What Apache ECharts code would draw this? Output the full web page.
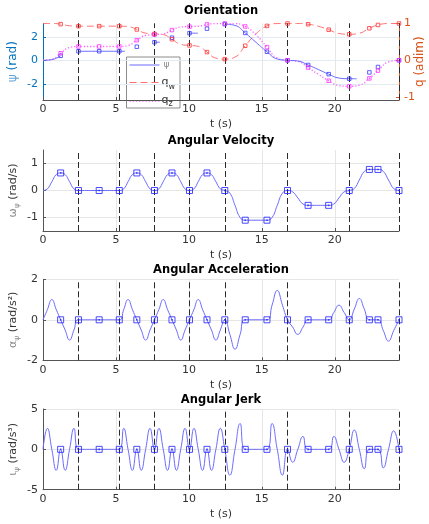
<!DOCTYPE html>
<html><head><meta charset="utf-8">
<script src="https://cdn.jsdelivr.net/npm/echarts@6/dist/echarts.min.js"></script>
<style>html,body{margin:0;padding:0;background:#fff}#c{width:429px;height:524px}</style>
</head><body><div id="c"></div>
<script>
// ---------------- DATA ----------------
const tMax = 24.4;
const xTicks = [0, 5, 10, 15, 20];
const waypoints = [2.43, 5.23, 7.64, 10.04, 12.46, 16.76, 20.99, 24.4];

// marker times (waypoints + intermediate phase changes)
const markerT     = [1.21, 2.43, 3.85, 5.23, 6.43, 7.64, 8.84, 10.04, 11.24, 12.46, 13.86, 15.35, 16.76, 18.17, 19.58, 20.99, 22.37, 22.96, 24.4];
const markerPsi   = [0.385, 0.77, 0.77, 0.77, 1.155, 1.54, 1.925, 2.31, 2.695, 3.08, 2.33, 0.73, 0, -0.4, -1.18, -1.57, -1.03, -0.57, 0];
const markerQw    = [0.982, 0.927, 0.927, 0.927, 0.838, 0.718, 0.572, 0.404, 0.222, 0.031, 0.395, 0.934, 1, 0.98, 0.831, 0.707, 0.87, 0.96, 1];
const markerQz    = [0.191, 0.375, 0.375, 0.375, 0.546, 0.696, 0.821, 0.915, 0.975, 1.0, 0.919, 0.357, 0, -0.199, -0.556, -0.707, -0.492, -0.281, 0];
const markerOmega = [0.65, 0, 0, 0, 0.65, 0, 0.65, 0, 0.65, 0, -1.1, -1.1, 0, -0.55, -0.55, 0, 0.78, 0.78, 0];
const markerAlpha = [0, 0, 0, 0, 0, 0, 0, 0, 0, 0, 0, 0, 0, 0, 0, 0, 0, 0, 0];
const markerIota  = [0, 0, 0, 0, 0, 0, 0, 0, 0, 0, 0, 0, 0, 0, 0, 0, 0, 0, 0];

// orientation curves
const oriT   = [0, 0.605, 1.21, 1.82, 2.43, 3.85, 5.23, 5.83, 6.43, 7.035, 7.64, 8.24, 8.84, 9.44, 10.04, 10.64, 11.24, 11.85, 12.46, 13.16, 13.86, 14.6, 15.35, 16.06, 16.76, 17.47, 18.17, 18.88, 19.58, 20.28, 20.99, 21.68, 22.37, 22.96, 23.68, 24.4];
const qwCurve = [1, 1.0, 0.982, 0.937, 0.927, 0.927, 0.927, 0.916, 0.838, 0.737, 0.718, 0.698, 0.572, 0.43, 0.404, 0.378, 0.222, 0.059, 0.031, 0.086, 0.395, 0.721, 0.934, 0.998, 1, 1.0, 0.98, 0.923, 0.831, 0.728, 0.707, 0.735, 0.87, 0.96, 0.999, 1];
const qzCurve = [0, 0.028, 0.191, 0.349, 0.375, 0.375, 0.375, 0.402, 0.546, 0.675, 0.696, 0.716, 0.821, 0.903, 0.915, 0.926, 0.975, 0.998, 1.0, 0.996, 0.919, 0.693, 0.357, 0.055, 0, -0.03, -0.199, -0.385, -0.556, -0.686, -0.707, -0.678, -0.492, -0.281, -0.045, 0];
// visible pieces of the psi line (null = gap)
const psiLineT = [0, 0.605, 1.21, null, 2.43, 3.85, 5.23, 5.62, null, 7.64, 8.0, null, 10.04, 10.62, null, 12.46, 13.16, 13.86, 14.6, 15.35, 16.06, 16.76, 17.47, 18.17, 18.88, 19.58, 20.28, 20.99, 21.5];
const psiLineV = [0, 0.057, 0.385, null, 0.77, 0.77, 0.77, 0.77, null, 1.54, 1.54, null, 2.31, 2.31, null, 3.08, 2.97, 2.33, 1.53, 0.73, 0.11, 0, -0.06, -0.4, -0.79, -1.18, -1.51, -1.57, -1.57];

// derivative curves (sampled at the same times)
const dynT = [0, 0.30, 0.605, 0.91, 1.21, 1.515, 1.82, 2.125, 2.43, 3.85, 5.23, 5.53, 5.83, 6.13, 6.43, 6.73, 7.035, 7.34, 7.64, 7.94, 8.24, 8.54, 8.84, 9.14, 9.44, 9.74, 10.04, 10.34, 10.64, 10.94, 11.24, 11.545, 11.85, 12.155, 12.46, 12.81, 13.16, 13.51, 13.86, 15.35, 15.70, 16.055, 16.41, 16.76, 17.11, 17.465, 17.82, 18.17, 19.58, 19.93, 20.285, 20.64, 20.99, 21.335, 21.68, 22.025, 22.37, 22.96, 23.32, 23.68, 24.04, 24.4];
const omegaCurve = [0, 0.059, 0.325, 0.591, 0.65, 0.591, 0.325, 0.059, 0, 0, 0, 0.059, 0.325, 0.591, 0.65, 0.591, 0.325, 0.059, 0, 0.059, 0.325, 0.591, 0.65, 0.591, 0.325, 0.059, 0, 0.059, 0.325, 0.591, 0.65, 0.591, 0.325, 0.059, 0, -0.1, -0.55, -1.0, -1.1, -1.1, -1.0, -0.55, -0.1, 0, -0.05, -0.275, -0.5, -0.55, -0.55, -0.5, -0.275, -0.05, 0, 0.071, 0.39, 0.709, 0.78, 0.78, 0.709, 0.39, 0.071, 0];
const alphaCurve = [0, 0.5, 1, 0.5, 0, -0.5, -1, -0.5, 0, 0, 0, 0.5, 1, 0.5, 0, -0.5, -1, -0.5, 0, 0.5, 1, 0.5, 0, -0.5, -1, -0.5, 0, 0.5, 1, 0.5, 0, -0.5, -1, -0.5, 0, -0.725, -1.45, -0.725, 0, 0, 0.725, 1.45, 0.725, 0, -0.36, -0.72, -0.36, 0, 0, 0.36, 0.72, 0.36, 0, 0.525, 1.05, 0.525, 0, 0, -0.525, -1.05, -0.525, 0];
const iotaCurve  = [0, 2.6, 0, -2.6, 0, -2.6, 0, 2.6, 0, 0, 0, 2.6, 0, -2.6, 0, -2.6, 0, 2.6, 0, 2.6, 0, -2.6, 0, -2.6, 0, 2.6, 0, 2.6, 0, -2.6, 0, -2.6, 0, 2.6, 0, -3.2, 0, 3.2, 0, 0, 3.2, 0, -3.2, 0, -1.6, 0, 1.6, 0, 0, 1.6, 0, -1.6, 0, 2.4, 0, -2.4, 0, 0, -2.3, 0, 2.3, 0];

// ---------------- STYLE ----------------
const FONT = 'DejaVu Sans';
const C = { psi:'#6b6bff', qw:'#ff6f6f', qz:'#ff5cff', curve:'#6b6bff', mark:'#1f1fff',
  dash:'#2b2b2b', axis:'#555555', text:'#333333', grid:'#e6e6e6', blue:'#0072BD', orange:'#D95319', greek:'#8a8a8a' };

const pairs = (ts, vs) => ts.map((t, i) => [t, vs[i]]);
const gapPairs = (ts, vs) => ts.map((t, i) => t === null ? [ts[i-1], '-'] : [t, vs[i]]);
// duplicate points at phase boundaries so that the jerk shows its corners
const cornerPairs = (ts, vs) => { const out = []; ts.forEach((t, i) => { out.push([t, vs[i]]); if (markerT.indexOf(t) >= 0 && i < ts.length - 1) out.push([t, vs[i]]); }); return out; };

const grids = [
  {left:43, top:23.3, width:356, height:76.7},
  {left:43, top:150, width:356, height:81},
  {left:43, top:279.3, width:356, height:81},
  {left:43, top:409, width:356, height:80.7}
].map(g => Object.assign({containLabel:false, outerBoundsMode:'none'}, g));

function xAx(i) {
  return { type:'value', gridIndex:i, min:0, max:tMax,
    name:'t (s)', nameLocation:'middle', nameGap:19, nameMoveOverlap:false,
    nameTextStyle:{fontFamily:FONT, fontSize:11, color:C.text},
    axisLine:{show:true, onZero:false, lineStyle:{color:C.axis, width:1}},
    axisTick:{show:true, inside:true, length:3, customValues:xTicks, lineStyle:{color:C.axis}},
    axisLabel:{show:true, customValues:xTicks, margin:4, fontFamily:FONT, fontSize:11, color:C.text},
    splitLine:{show:true, lineStyle:{color:C.grid, width:1}} };
}
const nameRich = {
  g:{fontFamily:FONT, fontSize:11, color:C.greek, lineHeight:16},
  s:{fontFamily:FONT, fontSize:7.5, color:C.greek, lineHeight:8, verticalAlign:'bottom'},
  t:{fontFamily:FONT, fontSize:11, color:C.text, lineHeight:16}
};
function yAx(i, min, max, ticks, name, extra) {
  return Object.assign({ type:'value', gridIndex:i, min:min, max:max, position:'left',
    name:name, nameLocation:'middle', nameGap:22, nameRotate:90, nameMoveOverlap:false,
    nameTextStyle:{fontFamily:FONT, fontSize:11, color:C.text, rich:nameRich},
    axisLine:{show:true, onZero:false, lineStyle:{color:C.axis, width:1}},
    axisTick:{show:true, inside:true, length:3, customValues:ticks, lineStyle:{color:C.axis}},
    axisLabel:{show:true, customValues:ticks, margin:5, fontFamily:FONT, fontSize:11, color:C.text},
    splitLine:{show:true, lineStyle:{color:C.grid, width:1}} }, extra || {});
}

const yAxes = [
  yAx(0, -3.38, 3.15, [-2, 0, 2], '{g|ψ}{t| (rad)}', {
    nameGap:22,
    nameTextStyle:{fontFamily:FONT, fontSize:12, color:C.blue, rich:{
      g:{fontFamily:FONT, fontSize:12, color:'#5fa3d6', lineHeight:16},
      t:{fontFamily:FONT, fontSize:12, color:C.blue, lineHeight:16}}},
    axisLine:{show:true, onZero:false, lineStyle:{color:C.blue, width:1}},
    axisTick:{show:true, inside:true, length:3, customValues:[-2, 0, 2], lineStyle:{color:C.blue}},
    axisLabel:{show:true, customValues:[-2, 0, 2], margin:5, fontFamily:FONT, fontSize:11, color:C.blue},
    splitLine:{show:true, lineStyle:{color:'#e3ebf2', width:1}} }),
  yAx(0, -1.08, 1.005, [-1, 0, 1], 'q (adim)', {
    position:'right', nameGap:15,
    nameTextStyle:{fontFamily:FONT, fontSize:12, color:C.orange},
    axisLine:{show:true, onZero:false, lineStyle:{color:C.orange, width:1}},
    axisTick:{show:true, inside:true, length:3, customValues:[-1, 0, 1], lineStyle:{color:C.orange}},
    axisLabel:{show:true, customValues:[-1, 0, 1], margin:5, fontFamily:FONT, fontSize:11, color:C.orange},
    splitLine:{show:false} }),
  yAx(1, -1.5, 1.5, [-1, 0, 1], '{g|ω}{s|ψ}{t| (rad/s)}'),
  yAx(2, -2, 2, [-2, 0, 2], '{g|α}{s|ψ}{t| (rad/s²)}'),
  yAx(3, -5, 5, [-5, 0, 5], '{g|ι}{s|ψ}{t| (rad/s³)}')
];

const wpLines = { silent:true, symbol:['none','none'], label:{show:false},
  lineStyle:{color:C.dash, type:[6,3], width:1}, data: waypoints.map(t => ({xAxis:t})) };

function curve(xi, yi, data, color, type, extra) {
  return Object.assign({ type:'line', xAxisIndex:xi, yAxisIndex:yi, data:data, smooth:0.5,
    showSymbol:false, symbol:'none', connectNulls:false, silent:true,
    lineStyle:{color:color, width:1, type:type || 'solid'} }, extra || {});
}
function marks(xi, yi, vals, color, size) {
  return { type:'scatter', xAxisIndex:xi, yAxisIndex:yi, data:pairs(markerT, vals), silent:true,
    symbol:'rect', symbolSize:size, z:5,
    itemStyle:{color:'rgba(255,255,255,0)', borderColor:color, borderWidth:1} };
}
function dots(xi, yi, vals, color) {
  return { type:'scatter', xAxisIndex:xi, yAxisIndex:yi, data:pairs(markerT, vals), silent:true,
    symbol:'rect', symbolSize:1.6, z:6, itemStyle:{color:color} };
}

const series = [
  curve(0, 1, pairs(oriT, qwCurve), C.qw, [7,4]),
  curve(0, 1, pairs(oriT, qzCurve), C.qz, [1.2,2], {lineStyle:{color:C.qz, width:1.3, type:[1.2,2]}}),
  curve(0, 0, gapPairs(psiLineT, psiLineV), C.psi, 'solid', {markLine:wpLines}),
  marks(0, 0, markerPsi, '#3a3aff', 3.5),
  marks(0, 1, markerQw, '#ff3030', 3.5),
  marks(0, 1, markerQz, '#ff30ff', 3.5),

  curve(1, 2, pairs(dynT, omegaCurve), C.curve, 'solid', {markLine:wpLines}),
  marks(1, 2, markerOmega, C.mark, 6), dots(1, 2, markerOmega, C.mark),

  curve(2, 3, pairs(dynT, alphaCurve), C.curve, 'solid', {markLine:wpLines}),
  marks(2, 3, markerAlpha, C.mark, 6), dots(2, 3, markerAlpha, C.mark),

  curve(3, 4, cornerPairs(dynT, iotaCurve), C.curve, 'solid', {markLine:wpLines}),
  marks(3, 4, markerIota, C.mark, 6), dots(3, 4, markerIota, C.mark)
];

function title(text, x, y) {
  return { type:'text', x:x, y:y, silent:true, z:100,
    style:{ text:text, fontFamily:FONT, fontSize:11.5, fontWeight:'bold', fill:'#000',
      align:'center', verticalAlign:'middle', textAlign:'center', textVerticalAlign:'middle' } };
}
const legendX = 126.5, legendY = 57;
const graphic = [
  title('Orientation', 221, 11),
  title('Angular Velocity', 221, 141),
  title('Angular Acceleration', 221, 270.5),
  title('Angular Jerk', 221, 400),
  { type:'group', z:100, silent:true, children:[
    { type:'rect', shape:{x:legendX, y:legendY, width:53.5, height:51}, style:{fill:'#fff', stroke:'#8c8c8c', lineWidth:1} },
    { type:'line', shape:{x1:legendX+3, y1:legendY+8, x2:legendX+33, y2:legendY+8}, style:{stroke:C.psi, lineWidth:1} },
    { type:'line', shape:{x1:legendX+3, y1:legendY+25.5, x2:legendX+33, y2:legendY+25.5}, style:{stroke:C.qw, lineWidth:1, lineDash:[7,4]} },
    { type:'line', shape:{x1:legendX+3, y1:legendY+44, x2:legendX+33, y2:legendY+44}, style:{stroke:C.qz, lineWidth:1.3, lineDash:[1.2,2]} },
    { type:'text', x:legendX+37, y:legendY+8, style:{ text:'ψ', fontFamily:FONT, fontSize:9, fill:C.greek, verticalAlign:'middle', textVerticalAlign:'middle' } },
    { type:'text', x:legendX+35, y:legendY+25.5, style:{ text:'{m|q}{s|w}', verticalAlign:'middle', textVerticalAlign:'middle',
        rich:{ m:{fontFamily:FONT, fontSize:11, fill:C.text, color:C.text, lineHeight:16}, s:{fontFamily:FONT, fontSize:8, fill:C.text, color:C.text, lineHeight:8, verticalAlign:'bottom'} } } },
    { type:'text', x:legendX+35, y:legendY+43, style:{ text:'{m|q}{s|z}', verticalAlign:'middle', textVerticalAlign:'middle',
        rich:{ m:{fontFamily:FONT, fontSize:11, fill:C.text, color:C.text, lineHeight:16}, s:{fontFamily:FONT, fontSize:8, fill:C.text, color:C.text, lineHeight:8, verticalAlign:'bottom'} } } }
  ]}
];

const chart = echarts.init(document.getElementById('c'), null, {renderer:'canvas'});
chart.setOption({
  animation:false, backgroundColor:'#fff',
  textStyle:{fontFamily:FONT},
  grid:grids,
  xAxis:[xAx(0), xAx(1), xAx(2), xAx(3)],
  yAxis:yAxes,
  series:series,
  graphic:graphic
});
</script></body></html>
